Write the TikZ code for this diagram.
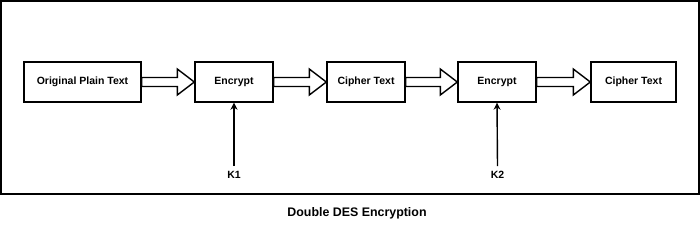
\documentclass[tikz,border=0pt]{standalone}
\usepackage{fontspec}
\setmainfont{Liberation Sans}
\usetikzlibrary{calc,arrows.meta}
\tikzset{
  procbox/.style={draw, line width=1.4pt, inner sep=0pt, minimum height=40pt, font=\bfseries\fontsize{10.5}{12}\selectfont},
  keylabel/.style={inner sep=0pt, font=\bfseries\fontsize{10.5}{12}\selectfont},
  blk/.style={draw, fill=white, line width=1.4pt, line join=miter},
  keyarrow/.style={line width=1.4pt, -{Stealth[length=7pt,width=7pt]}}
}
\newcommand\blockarrow[2]{%
  \draw[blk] ($(#1.east)+(0,-4.5)$) -- ($(#2.west)+(-17,-4.5)$) -- ($(#2.west)+(-17,-13)$)
    -- (#2.west) -- ($(#2.west)+(-17,13)$) -- ($(#2.west)+(-17,4.5)$) -- ($(#1.east)+(0,4.5)$) -- cycle;}
\begin{document}
\begin{tikzpicture}[x=1pt,y=-1pt]
\useasboundingbox (0,0) rectangle (700,226);
\draw[line width=1.3pt] (1,1) rectangle (699,194);
\node[procbox, minimum width=117pt] (pt) at (82.5,82) {Original Plain Text};
\node[procbox, minimum width=78pt] (e1) at (234,82) {Encrypt};
\node[procbox, minimum width=78pt] (c1) at (366,82) {Cipher Text};
\node[procbox, minimum width=78pt] (e2) at (497,82) {Encrypt};
\node[procbox, minimum width=85pt] (c2) at (633.5,82) {Cipher Text};
\blockarrow{pt}{e1}
\blockarrow{e1}{c1}
\blockarrow{c1}{e2}
\blockarrow{e2}{c2}
\node[keylabel] (k1) at (234,175) {K1};
\node[keylabel] (k2) at (497.5,175) {K2};
\draw[keyarrow] ($(k1.north)+(0,-5)$) -- (e1.south);
\draw[keyarrow] ($(k2.north)+(0,-5)$) -- (e2.south);
\node[font=\bfseries\fontsize{12.4}{14}\selectfont] (title) at (357,213) {Double DES Encryption};
\end{tikzpicture}
\end{document}
